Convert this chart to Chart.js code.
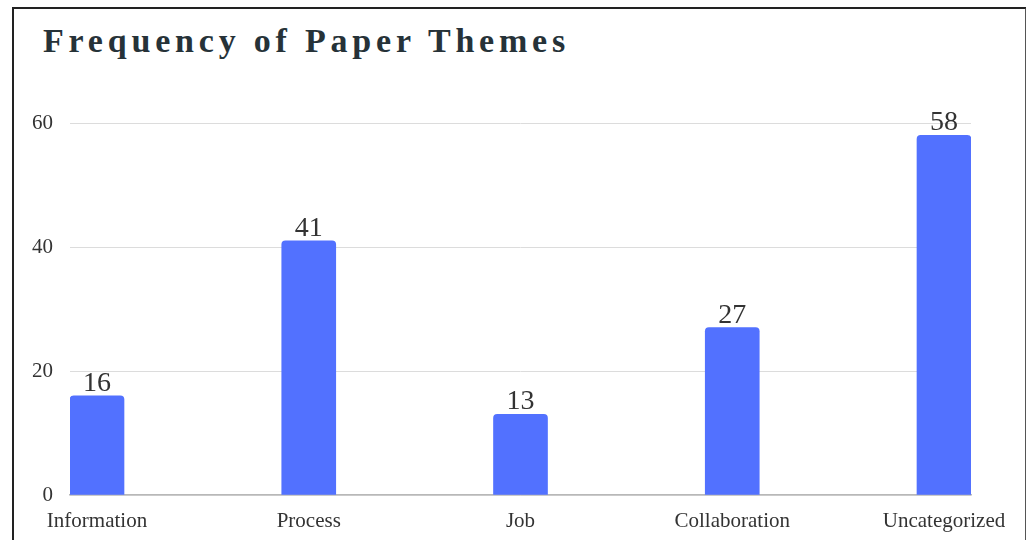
<!DOCTYPE html>
<html>
<head>
<meta charset="utf-8">
<script src="https://cdn.jsdelivr.net/npm/chart.js@4"></script>
<style>
    html, body { margin: 0; padding: 0; background: #fff; }
    body { width: 1026px; height: 540px; position: relative; overflow: hidden; }
    #frame {
        position: absolute; left: 12px; top: 7px; width: 1011px; height: 560px;
        border-left: 2px solid #222; border-top: 2px solid #222; border-right: 2px solid #555;
    }
    #title {
        position: absolute; left: 43px; top: 22px; margin: 0;
        font-family: "Liberation Serif", serif; font-weight: bold; font-size: 34px;
        letter-spacing: 4.8px; color: #263238; white-space: nowrap;
    }
    #wrap { position: absolute; left: 0; top: 0; width: 1026px; height: 540px; }
</style>
</head>
<body>
<div id="frame"></div>
<h1 id="title">Frequency of Paper Themes</h1>
<div id="wrap"><canvas id="themeChart"></canvas></div>
<script>
    // -----------------------------
    // DATA
    // -----------------------------
    const categories = ["Information", "Process", "Job", "Collaboration", "Uncategorized"];
    const counts = [16, 41, 13, 27, 58];
    const yTicks = [0, 20, 40, 60];

    const serif = '"Liberation Serif", "Times New Roman", serif';

    // value labels above each bar
    const valueLabels = {
        id: 'valueLabels',
        afterDatasetsDraw(chart) {
            const ctx = chart.ctx;
            const meta = chart.getDatasetMeta(0);
            ctx.save();
            ctx.font = '28px ' + serif;
            ctx.fillStyle = '#333';
            ctx.textAlign = 'center';
            ctx.textBaseline = 'alphabetic';
            meta.data.forEach((bar, i) => {
                ctx.fillText(counts[i], bar.x, bar.y - 5);
            });
            ctx.restore();
        }
    };

    const ctx = document.getElementById("themeChart").getContext("2d");
    new Chart(ctx, {
        type: "bar",
        data: {
            datasets: [{
                data: counts.map((v, i) => ({ x: i, y: v })),
                backgroundColor: "#5271FF",
                borderRadius: { topLeft: 4, topRight: 4 },
                borderSkipped: 'bottom',
                barThickness: 54
            }]
        },
        options: {
            responsive: true,
            maintainAspectRatio: false,
            animation: false,
            layout: { padding: { top: 123, right: 55, bottom: 0, left: 0 } },
            plugins: {
                legend: { display: false },
                tooltip: { enabled: false }
            },
            scales: {
                x: {
                    type: 'linear',
                    offset: false,
                    min: -0.1275,
                    max: 4.1275,
                    afterFit: s => { s.height = 45; },
                    afterBuildTicks: s => { s.ticks = categories.map((c, i) => ({ value: i })); },
                    grid: { display: false, drawTicks: false, offset: false },
                    border: { display: true, color: '#b8b8b8', width: 1.5 },
                    ticks: {
                        padding: 14,
                        maxRotation: 0,
                        autoSkip: false,
                        color: '#333',
                        font: { family: serif, size: 21 },
                        callback: v => categories[v]
                    }
                },
                y: {
                    min: 0,
                    max: 60,
                    afterFit: s => { s.width = 70; },
                    afterBuildTicks: s => { s.ticks = yTicks.map(v => ({ value: v })); },
                    grid: { color: '#dcdcdc', lineWidth: 1, drawTicks: false },
                    border: { display: false },
                    ticks: {
                        padding: 17,
                        color: '#333',
                        font: { family: serif, size: 21 }
                    }
                }
            }
        },
        plugins: [valueLabels]
    });
</script>
</body>
</html>
